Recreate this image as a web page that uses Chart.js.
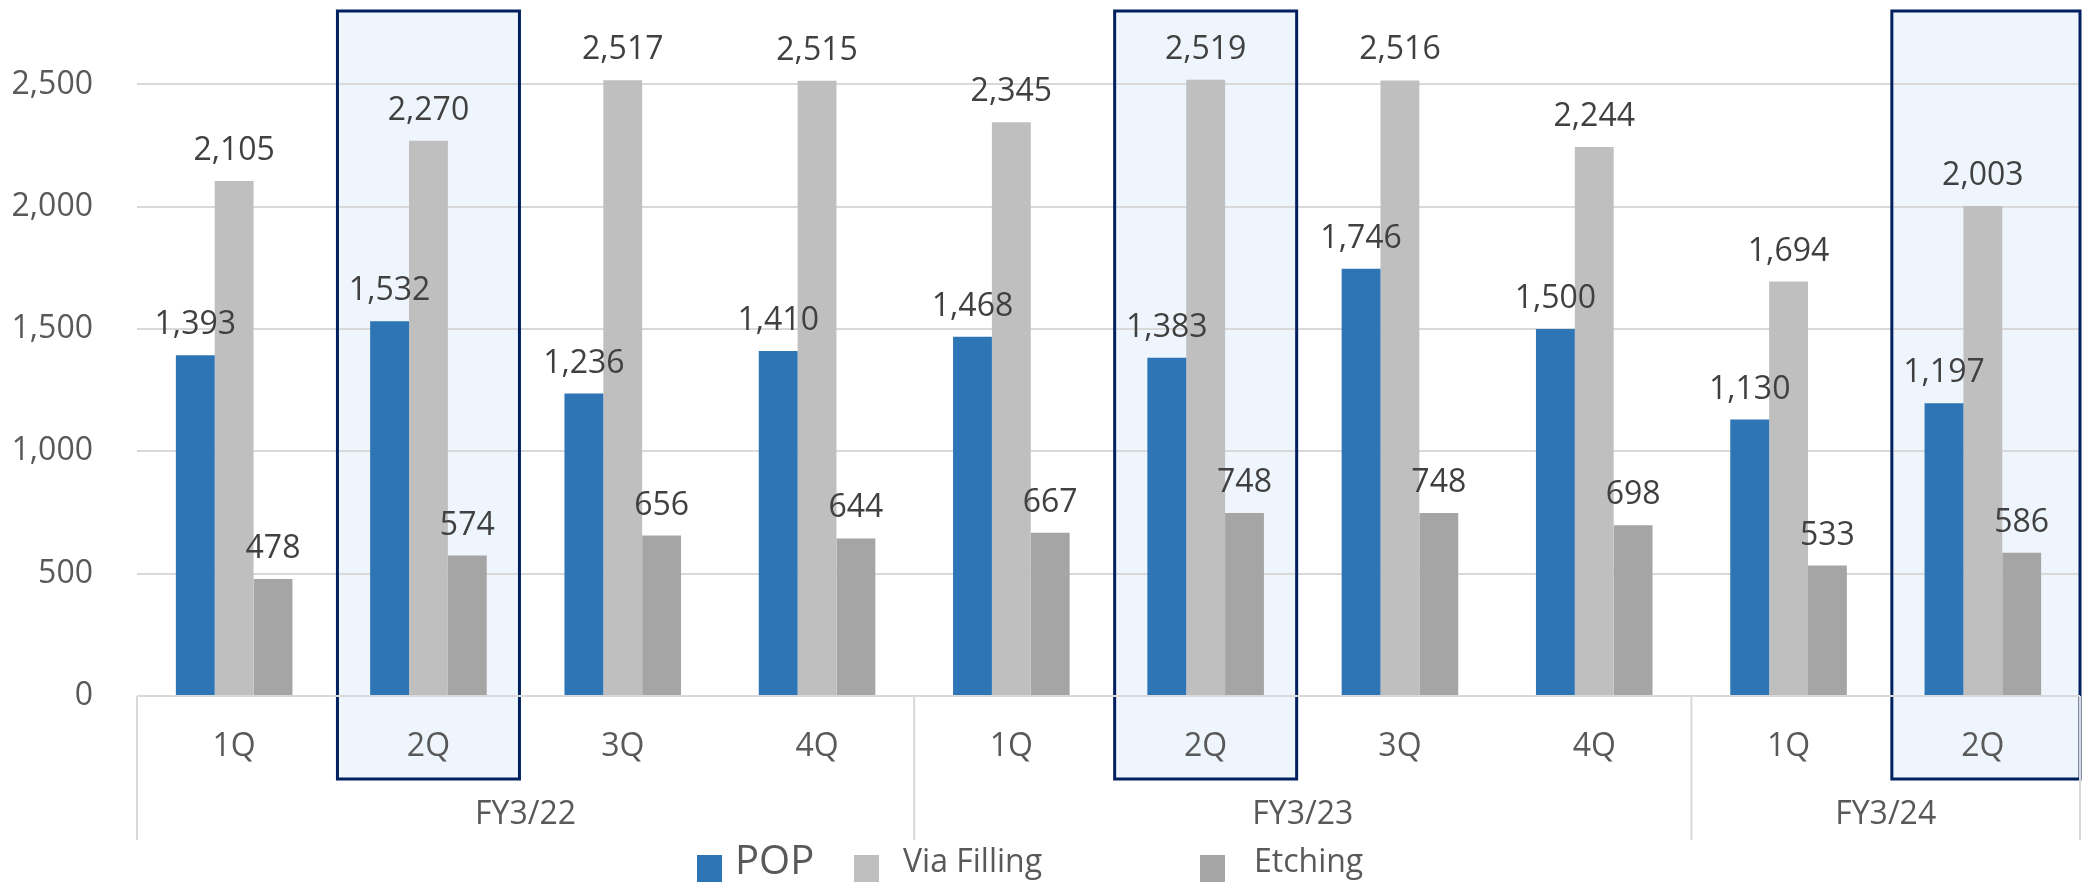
<!DOCTYPE html>
<html>
<head>
<meta charset="utf-8">
<script src="https://cdn.jsdelivr.net/npm/chart.js@4"></script>
<style>
  html, body { margin: 0; padding: 0; background: #fff; }
  #wrap { width: 2084px; height: 882px; }
</style>
</head>
<body>
<div id="wrap"><canvas id="chart"></canvas></div>
<script>
const quarters = ['1Q', '2Q', '3Q', '4Q', '1Q', '2Q', '3Q', '4Q', '1Q', '2Q']
const fiscalYears = ['FY3/22', 'FY3/23', 'FY3/24']
const yearSizes = [4, 4, 2]
const highlighted = [1, 5, 9]
const yTicks = [0, 500, 1000, 1500, 2000, 2500]

const pop = [1393, 1532, 1236, 1410, 1468, 1383, 1746, 1500, 1130, 1197]
const viaFilling = [2105, 2270, 2517, 2515, 2345, 2519, 2516, 2244, 1694, 2003]
const etching = [478, 574, 656, 644, 667, 748, 748, 698, 533, 586]

const FONT = '"Open Sans", sans-serif'
const GRID = '#D9D9D9'

const fmt = v => v.toLocaleString('en-US')

function boxRect(chart, i) {
    const x = chart.scales.x
    const cx = x.getPixelForValue(i)
    const l = cx - 91
    const r = i === quarters.length - 1 ? x.right : cx + 91
    return [l, 11, r - l, 768]
}

// highlight boxes, multi-level category axis, value labels and legend
const decor = {
    id: 'decor',
    beforeDraw(chart) {
        const ctx = chart.ctx
        ctx.save()
        ctx.fillStyle = '#EEF5FC'
        highlighted.forEach(i => ctx.fillRect(...boxRect(chart, i)))
        ctx.restore()
    },
    afterDatasetsDraw(chart) {
        const ctx = chart.ctx
        const x = chart.scales.x
        const y = chart.scales.y
        const slot = (x.right - x.left) / quarters.length
        const base = y.getPixelForValue(0)
        ctx.save()

        // box outlines
        ctx.strokeStyle = '#002060'
        ctx.lineWidth = 3
        highlighted.forEach(i => ctx.strokeRect(...boxRect(chart, i)))

        // value labels
        ctx.font = '32px ' + FONT
        ctx.fillStyle = '#404040'
        ctx.textAlign = 'center'
        ctx.textBaseline = 'alphabetic'
        chart.data.datasets.forEach((ds, di) => {
            chart.getDatasetMeta(di).data.forEach((bar, i) => {
                ctx.fillText(fmt(ds.data[i]), bar.x, bar.y - 21)
            })
        })

        // category axis
        ctx.strokeStyle = GRID
        ctx.lineWidth = 2
        ctx.beginPath()
        ctx.moveTo(x.left, base)
        ctx.lineTo(x.right, base)
        ctx.stroke()

        ctx.fillStyle = '#595959'
        ctx.textBaseline = 'middle'
        quarters.forEach((q, i) => {
            ctx.fillText(q, x.getPixelForValue(i), 747)
        })

        let start = 0
        const edges = [x.left]
        fiscalYears.forEach((fy, k) => {
            const end = start + yearSizes[k]
            const l = x.left + start * slot
            const r = x.left + end * slot
            edges.push(r)
            ctx.fillText(fy, (l + r) / 2, 815)
            start = end
        })
        ctx.beginPath()
        edges.forEach(ex => {
            ctx.moveTo(ex, base)
            ctx.lineTo(ex, 840)
        })
        ctx.stroke()

        // legend
        const items = [
            { text: 'POP', color: '#2E75B6', mx: 697, tx: 735, size: 40 },
            { text: 'Via Filling', color: '#BFBFBF', mx: 854, tx: 903, size: 32 },
            { text: 'Etching', color: '#A5A5A5', mx: 1200, tx: 1254, size: 32 }
        ]
        ctx.textAlign = 'left'
        items.forEach(it => {
            ctx.fillStyle = it.color
            ctx.fillRect(it.mx, 855, 25, 27)
            ctx.fillStyle = '#595959'
            ctx.font = it.size + 'px ' + FONT
            ctx.fillText(it.text, it.tx, 863)
        })
        ctx.restore()
    }
}

new Chart(document.getElementById('chart'), {
    type: 'bar',
    data: {
        labels: quarters,
        datasets: [
            { label: 'POP', data: pop, backgroundColor: '#2E75B6' },
            { label: 'Via Filling', data: viaFilling, backgroundColor: '#BFBFBF' },
            { label: 'Etching', data: etching, backgroundColor: '#A5A5A5' }
        ]
    },
    options: {
        responsive: true,
        maintainAspectRatio: false,
        animation: false,
        layout: { padding: { top: 11, right: 4, left: 0, bottom: 0 } },
        datasets: { bar: { barPercentage: 1, categoryPercentage: 0.6 } },
        plugins: {
            legend: { display: false },
            tooltip: { enabled: false }
        },
        scales: {
            x: {
                grid: { display: false },
                border: { display: false },
                ticks: { display: false },
                afterFit: scale => {
                    scale.height = 186
                    scale.paddingLeft = 0
                    scale.paddingRight = 0
                }
            },
            y: {
                min: 0,
                max: 2800,
                border: { display: false },
                grid: { color: GRID, lineWidth: 2, drawTicks: false },
                ticks: {
                    padding: 44,
                    color: '#595959',
                    font: { family: FONT, size: 32 },
                    callback: v => fmt(v)
                },
                afterBuildTicks: scale => { scale.ticks = yTicks.map(v => ({ value: v })) },
                afterFit: scale => {
                    scale.width = 137
                    scale.paddingTop = 0
                    scale.paddingBottom = 0
                }
            }
        }
    },
    plugins: [decor]
})
</script>
</body>
</html>
